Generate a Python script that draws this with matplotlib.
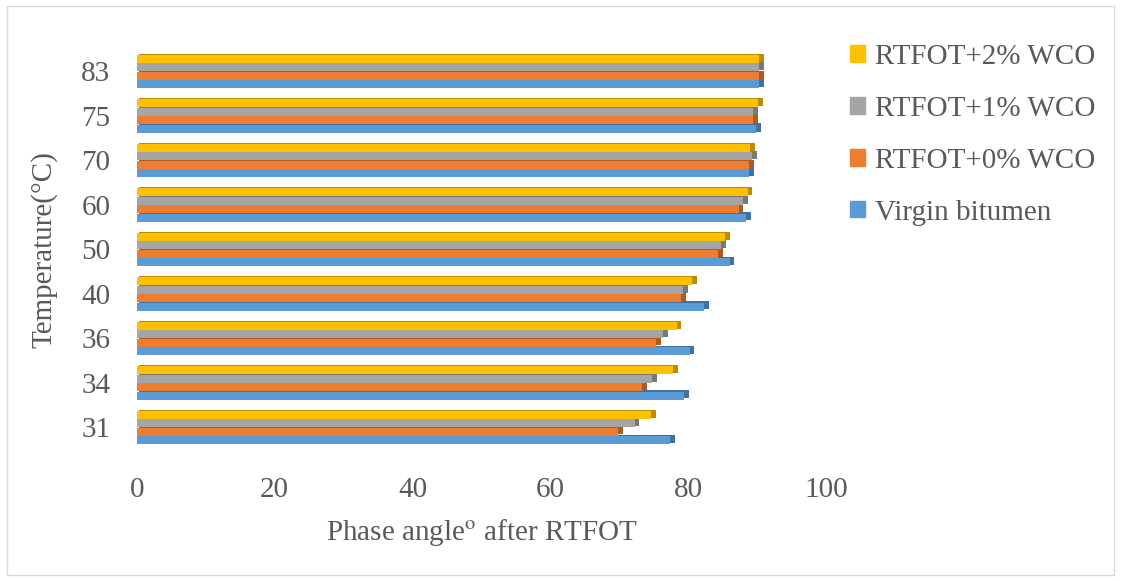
import matplotlib
matplotlib.use("Agg")
import matplotlib.pyplot as plt
import numpy as np
from matplotlib.patches import Rectangle, Patch

temperatures = ["31", "34", "36", "40", "50", "60", "70", "75", "83"]
virgin = [77.3, 79.4, 80.2, 82.3, 86.0, 88.4, 88.8, 89.8, 90.3]
rtfot0 = [69.8, 73.3, 75.3, 78.9, 84.3, 87.3, 88.8, 89.4, 90.3]
rtfot1 = [72.2, 74.7, 76.3, 79.2, 84.7, 87.9, 89.2, 89.4, 90.3]
rtfot2 = [74.6, 77.8, 78.3, 80.5, 85.3, 88.6, 89.0, 90.1, 90.3]
series_names = ["Virgin bitumen", "RTFOT+0% WCO", "RTFOT+1% WCO", "RTFOT+2% WCO"]
colors = ["#5B9BD5", "#ED7D31", "#A5A5A5", "#FFC000"]
dark = ["#41719C", "#AE5A21", "#787878", "#BC8C00"]

plt.rcParams['font.family'] = ['Liberation Serif', 'DejaVu Serif']
plt.rcParams['mathtext.fontset'] = 'stix'
txt = "#595959"
fs = 21

fig = plt.figure(figsize=(11.21, 5.81), dpi=100)
fig.patches.append(Rectangle((0.006, 0.01), 0.988, 0.98, transform=fig.transFigure,
                             fill=False, edgecolor="#D9D9D9", linewidth=1))
ax = fig.add_axes([0.122, 0.217, 0.615, 0.706])

y = np.arange(len(temperatures))
h = 0.19
offsets = [-1.5 * h, -0.5 * h, 0.5 * h, 1.5 * h]
data = [virgin, rtfot0, rtfot1, rtfot2]
for vals, off, c, d in zip(data, offsets, colors, dark):
    # 3D-ish side shading
    ax.barh(y + off + 0.025, np.array(vals) + 0.4, height=h * 0.95, left=0.3, color=d, zorder=1)
    ax.barh(y + off, vals, height=h * 0.95, color=c, zorder=2)

ax.set_xlim(0, 100)
ax.set_ylim(-0.62, 8.6)
ax.set_xticks([0, 20, 40, 60, 80, 100])
ax.set_yticks(y)
ax.set_yticklabels(temperatures)
ax.tick_params(axis='both', length=0, labelsize=fs, colors=txt)
ax.tick_params(axis='x', pad=16)
ax.tick_params(axis='y', pad=19)
for s in ax.spines.values():
    s.set_visible(False)

ax.set_xlabel("Phase angle$^{\\mathrm{o}}$ after RTFOT", fontsize=fs, color=txt, labelpad=10)
ax.set_ylabel("Temperature(°C)", fontsize=fs, color=txt, labelpad=17)

handles = [Patch(color=c) for c in colors[::-1]]
leg = fig.legend(handles, series_names[::-1], loc="upper left", bbox_to_anchor=(0.740, 0.96),
                 frameon=False, fontsize=fs, handlelength=0.5, handleheight=0.5,
                 handletextpad=0.35, labelspacing=0.89, borderpad=0.2)
for t in leg.get_texts():
    t.set_color(txt)

fig.savefig("out.png", dpi=100)
